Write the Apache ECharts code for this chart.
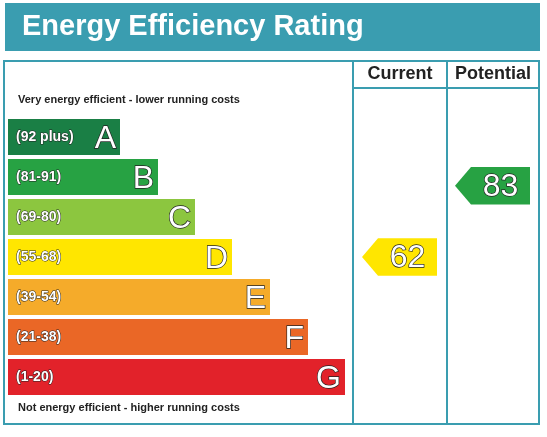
<!DOCTYPE html>
<html><head><meta charset="utf-8">
<script src="https://cdn.jsdelivr.net/npm/echarts@6/dist/echarts.min.js"></script>
<style>html,body{margin:0;padding:0;background:#fff}#c{width:547px;height:437px}</style>
</head><body><div id="c"></div>
<script>
const ranges = ['(92 plus)','(81-91)','(69-80)','(55-68)','(39-54)','(21-38)','(1-20)'];
const letters = ['A','B','C','D','E','F','G'];
const bandLengths = [112,150,187,224,262,300,337];
const bandColors = ['#1a7f45','#27a243','#8cc63f','#ffe600','#f5ab2a','#ea6726','#e2222a'];
const currentRating = 62, currentPos = 3.5, currentColor = '#ffe600';
const potentialRating = 83, potentialPos = 1.72, potentialColor = '#27a243';
const chart = echarts.init(document.getElementById('c'));
const bigFont = '32px "Liberation Sans Narrow", "Liberation Sans", sans-serif';
function arrow(x0,x1,color,val){
  return function(params, api){
    const y = api.value(1);
    const c = api.coord([x0, y]), e = api.coord([x1, y]);
    const top = api.coord([x0, y-0.47])[1], bot = api.coord([x0, y+0.47])[1];
    const tip = 16;
    return {type:'group',children:[
      {type:'polygon',shape:{points:[[c[0],c[1]],[c[0]+tip,top],[e[0],top],[e[0],bot],[c[0]+tip,bot]]},style:{fill:color}},
      {type:'text',style:{text:String(val),x:(c[0]+tip+e[0])/2,y:c[1]+1,align:'center',verticalAlign:'middle',
        font:bigFont,fill:'#fff',stroke:'#222',lineWidth:1.3}}
    ]};
  };
}
chart.setOption({
  animation:false,
  grid:{left:8,right:8,top:117,bottom:437-397},
  xAxis:{type:'value',min:0,max:531,show:false},
  yAxis:{type:'value',min:0,max:7,inverse:true,show:false},
  graphic:[
    {type:'rect',shape:{x:5,y:3,width:535,height:48},style:{fill:'#3a9db0'}},
    {type:'text',style:{text:'Energy Efficiency Rating',x:22,y:27,verticalAlign:'middle',font:'bold 29px "Liberation Sans", sans-serif',fill:'#fff'}},
    {type:'rect',shape:{x:4,y:61,width:535,height:363},style:{fill:'none',stroke:'#3a9db0',lineWidth:2}},
    {type:'line',shape:{x1:353,y1:61,x2:353,y2:424},style:{stroke:'#3a9db0',lineWidth:2}},
    {type:'line',shape:{x1:447,y1:61,x2:447,y2:424},style:{stroke:'#3a9db0',lineWidth:2}},
    {type:'line',shape:{x1:353,y1:88,x2:539,y2:88},style:{stroke:'#3a9db0',lineWidth:2}},
    {type:'text',style:{text:'Current',x:400,y:74,align:'center',verticalAlign:'middle',font:'bold 18px "Liberation Sans Narrow", "Liberation Sans", sans-serif',fill:'#222'}},
    {type:'text',style:{text:'Potential',x:493,y:74,align:'center',verticalAlign:'middle',font:'bold 18px "Liberation Sans Narrow", "Liberation Sans", sans-serif',fill:'#222'}},
    {type:'text',style:{text:'Very energy efficient - lower running costs',x:18,y:100,verticalAlign:'middle',font:'bold 11px "Liberation Sans Narrow", "Liberation Sans", sans-serif',fill:'#222'}},
    {type:'text',style:{text:'Not energy efficient - higher running costs',x:18,y:408,verticalAlign:'middle',font:'bold 11px "Liberation Sans Narrow", "Liberation Sans", sans-serif',fill:'#222'}}
  ],
  series:[
    {type:'custom',data:bandLengths.map((v,i)=>[v,i]),renderItem:function(params,api){
      const i = params.dataIndex;
      const a = api.coord([0,i+0.05]), b = api.coord([api.value(0),i+0.95]);
      const mid = (a[1]+b[1])/2;
      return {type:'group',children:[
        {type:'rect',shape:{x:a[0],y:a[1],width:b[0]-a[0],height:b[1]-a[1]},style:{fill:bandColors[i]}},
        {type:'text',style:{text:ranges[i],x:a[0]+8,y:mid,verticalAlign:'middle',font:'bold 14px "Liberation Sans Narrow", "Liberation Sans", sans-serif',fill:'#fff',stroke:'#222',lineWidth:1}},
        {type:'text',style:{text:letters[i],x:b[0]-4,y:mid+2,align:'right',verticalAlign:'middle',font:bigFont,fill:'#fff',stroke:'#222',lineWidth:1.3}}
      ]};
    }},
    {type:'custom',data:[[0,currentPos]],renderItem:arrow(354,429,currentColor,currentRating)},
    {type:'custom',data:[[0,potentialPos]],renderItem:arrow(447,522,potentialColor,potentialRating)}
  ]
});
</script></body></html>
